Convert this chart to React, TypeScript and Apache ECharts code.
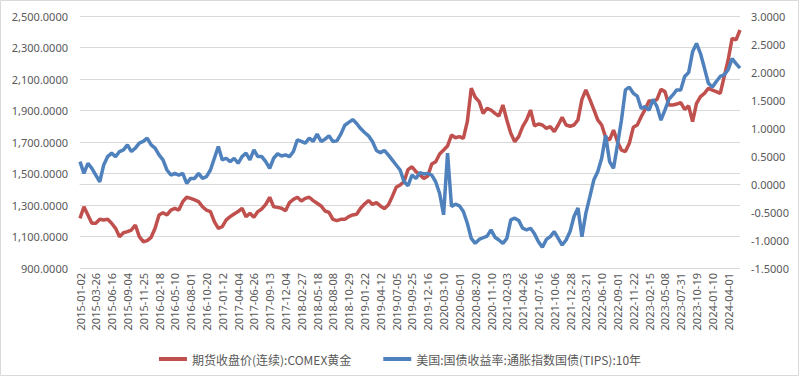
import React, { useEffect, useRef } from "react";
import * as echarts from "echarts";

// Tick labels on the category axis (one every 4 sampled points)
const tickLabels = [
  "2015-01-02", "2015-03-26", "2015-06-16", "2015-09-04", "2015-11-25", "2016-02-18",
  "2016-05-10", "2016-08-01", "2016-10-20", "2017-01-12", "2017-04-04", "2017-06-26",
  "2017-09-13", "2017-12-04", "2018-02-27", "2018-05-18", "2018-08-08", "2018-10-29",
  "2019-01-22", "2019-04-12", "2019-07-05", "2019-09-25", "2019-12-16", "2020-03-10",
  "2020-06-01", "2020-08-20", "2020-11-10", "2021-02-03", "2021-04-26", "2021-07-16",
  "2021-10-06", "2021-12-28", "2022-03-21", "2022-06-10", "2022-09-01", "2022-11-22",
  "2023-02-15", "2023-05-08", "2023-07-31", "2023-10-19", "2024-01-10", "2024-04-01",
];

const POINTS_PER_TICK = 4;

// 期货收盘价(连续):COMEX黄金 (left axis)
const goldClose = [
  1215, 1289, 1237, 1184, 1184, 1209, 1205, 1209, 1184, 1152,
  1099, 1124, 1131, 1141, 1173, 1099, 1067, 1074, 1095, 1152,
  1237, 1251, 1237, 1268, 1279, 1268, 1321, 1349, 1342, 1332,
  1321, 1289, 1268, 1258, 1194, 1152, 1162, 1205, 1226, 1243,
  1258, 1279, 1226, 1247, 1222, 1258, 1275, 1304, 1349, 1289,
  1285, 1279, 1264, 1315, 1336, 1349, 1325, 1342, 1349, 1328,
  1311, 1294, 1262, 1253, 1209, 1201, 1209, 1209, 1226, 1237,
  1241, 1279, 1306, 1328, 1304, 1315, 1294, 1277, 1300, 1353,
  1412, 1427, 1448, 1525, 1543, 1512, 1491, 1469, 1484, 1560,
  1575, 1624, 1649, 1675, 1744, 1727, 1734, 1723, 1829, 2041,
  1984, 1956, 1882, 1914, 1903, 1882, 1865, 1935, 1840, 1755,
  1702, 1734, 1797, 1840, 1903, 1802, 1814, 1808, 1787, 1797,
  1766, 1808, 1857, 1808, 1800, 1808, 1840, 1971, 2030, 1971,
  1907, 1840, 1808, 1730, 1713, 1776, 1702, 1649, 1639, 1692,
  1793, 1808, 1861, 1907, 1962, 1956, 1971, 2034, 2020, 1935,
  1935, 1941, 1950, 1907, 1929, 1829, 1945, 1988, 2009, 2041,
  2030, 2020, 2009, 2115, 2221, 2358, 2348, 2411,
];

// 美国:国债收益率:通胀指数国债(TIPS):10年 (right axis)
const tipsYield = [
  0.40, 0.19, 0.37, 0.28, 0.16, 0.04, 0.34, 0.49, 0.55, 0.49,
  0.58, 0.61, 0.70, 0.58, 0.64, 0.73, 0.76, 0.82, 0.70, 0.64,
  0.52, 0.43, 0.25, 0.16, 0.19, 0.16, 0.19, 0.01, 0.10, 0.10,
  0.19, 0.10, 0.13, 0.25, 0.46, 0.67, 0.43, 0.46, 0.40, 0.46,
  0.37, 0.49, 0.55, 0.43, 0.61, 0.49, 0.49, 0.40, 0.28, 0.46,
  0.54, 0.50, 0.52, 0.49, 0.58, 0.79, 0.76, 0.73, 0.82, 0.76,
  0.89, 0.76, 0.80, 0.86, 0.76, 0.77, 0.89, 1.05, 1.10, 1.15,
  1.08, 0.99, 0.92, 0.86, 0.76, 0.60, 0.56, 0.60, 0.52, 0.43,
  0.34, 0.25, 0.04, -0.03, 0.16, 0.10, 0.20, 0.18, 0.19, 0.16,
  0.04, -0.17, -0.55, 0.55, -0.40, -0.36, -0.39, -0.49, -0.70, -0.97,
  -1.06, -0.99, -0.96, -0.93, -0.82, -0.95, -1.00, -1.06, -0.97, -0.64,
  -0.61, -0.65, -0.79, -0.82, -0.79, -0.89, -1.03, -1.13, -0.99, -0.94,
  -0.85, -0.97, -1.09, -1.00, -0.85, -0.58, -0.43, -0.94, -0.52, -0.23,
  0.07, 0.22, 0.46, 0.87, 0.40, 0.28, 0.70, 1.14, 1.68, 1.73,
  1.62, 1.57, 1.35, 1.38, 1.32, 1.51, 1.38, 1.14, 1.32, 1.51,
  1.59, 1.68, 1.68, 1.92, 1.99, 2.36, 2.51, 2.33, 2.07, 1.80,
  1.73, 1.83, 1.92, 1.95, 2.04, 2.24, 2.15, 2.07,
];

const leftTicks = { min: 900, max: 2500, interval: 200 };
const rightTicks = { min: -1.5, max: 3.0, interval: 0.5 };

const goldName = "期货收盘价(连续):COMEX黄金";
const tipsName = "美国:国债收益率:通胀指数国债(TIPS):10年";

const AXIS_FONT = "'Noto Sans', 'Liberation Sans', sans-serif";
const CJK_FONT = "'Noto Sans CJK SC', 'Noto Sans', sans-serif";
const TEXT_COLOR = "#595959";

export default function App() {
  const ref = useRef<HTMLDivElement>(null);

  useEffect(() => {
    if (!ref.current) return;
    const chart = echarts.init(ref.current, null, { renderer: "svg" });
    const categories = goldClose.map((_, i) => String(i));

    chart.setOption({
      animation: false,
      backgroundColor: "#ffffff",
      grid: { left: 80, right: 60, top: 16, bottom: 109 },
      graphic: [
        {
          type: "rect",
          shape: { x: 0.5, y: 0.5, width: 798, height: 375 },
          style: { fill: "none", stroke: "#D9D9D9", lineWidth: 1 },
          silent: true,
          z: -1,
        },
      ],
      legend: {
        top: 348,
        left: "center",
        icon: "rect",
        itemWidth: 28,
        itemHeight: 4,
        itemGap: 32,
        textStyle: { fontFamily: CJK_FONT, fontSize: 12, color: TEXT_COLOR },
        data: [goldName, tipsName],
      },
      xAxis: {
        type: "category",
        boundaryGap: false,
        data: categories,
        axisLine: { show: true, lineStyle: { color: "#D9D9D9", width: 1 } },
        axisTick: { show: false },
        axisLabel: {
          interval: POINTS_PER_TICK - 1,
          rotate: 90,
          margin: 5,
          fontFamily: AXIS_FONT,
          fontSize: 11,
          color: TEXT_COLOR,
          formatter: (_v: string, idx: number) =>
            idx % POINTS_PER_TICK === 0 ? tickLabels[idx / POINTS_PER_TICK] ?? "" : "",
        },
        splitLine: { show: false },
      },
      yAxis: [
        {
          type: "value",
          min: leftTicks.min,
          max: leftTicks.max,
          interval: leftTicks.interval,
          axisLine: { show: false },
          axisTick: { show: false },
          axisLabel: {
            margin: 12,
            fontFamily: AXIS_FONT,
            fontSize: 11,
            color: TEXT_COLOR,
            formatter: (v: number) =>
              v.toLocaleString("en-US", { minimumFractionDigits: 4, maximumFractionDigits: 4 }),
          },
          splitLine: { show: true, lineStyle: { color: "#D9D9D9", width: 1 } },
        },
        {
          type: "value",
          min: rightTicks.min,
          max: rightTicks.max,
          interval: rightTicks.interval,
          axisLine: { show: false },
          axisTick: { show: false },
          axisLabel: {
            margin: 11,
            fontFamily: AXIS_FONT,
            fontSize: 11,
            color: TEXT_COLOR,
            formatter: (v: number) => v.toFixed(4),
          },
          splitLine: { show: false },
        },
      ],
      series: [
        {
          name: goldName,
          type: "line",
          yAxisIndex: 0,
          data: goldClose,
          showSymbol: false,
          symbol: "none",
          lineStyle: { color: "#C0504D", width: 3.5 },
          itemStyle: { color: "#C0504D" },
        },
        {
          name: tipsName,
          type: "line",
          yAxisIndex: 1,
          data: tipsYield,
          showSymbol: false,
          symbol: "none",
          lineStyle: { color: "#4F81BD", width: 3.5 },
          itemStyle: { color: "#4F81BD" },
        },
      ],
    });

    return () => chart.dispose();
  }, []);

  return (
    <div
      ref={ref}
      style={{ position: "absolute", left: 0, top: 0, width: 800, height: 377 }}
    />
  );
}
